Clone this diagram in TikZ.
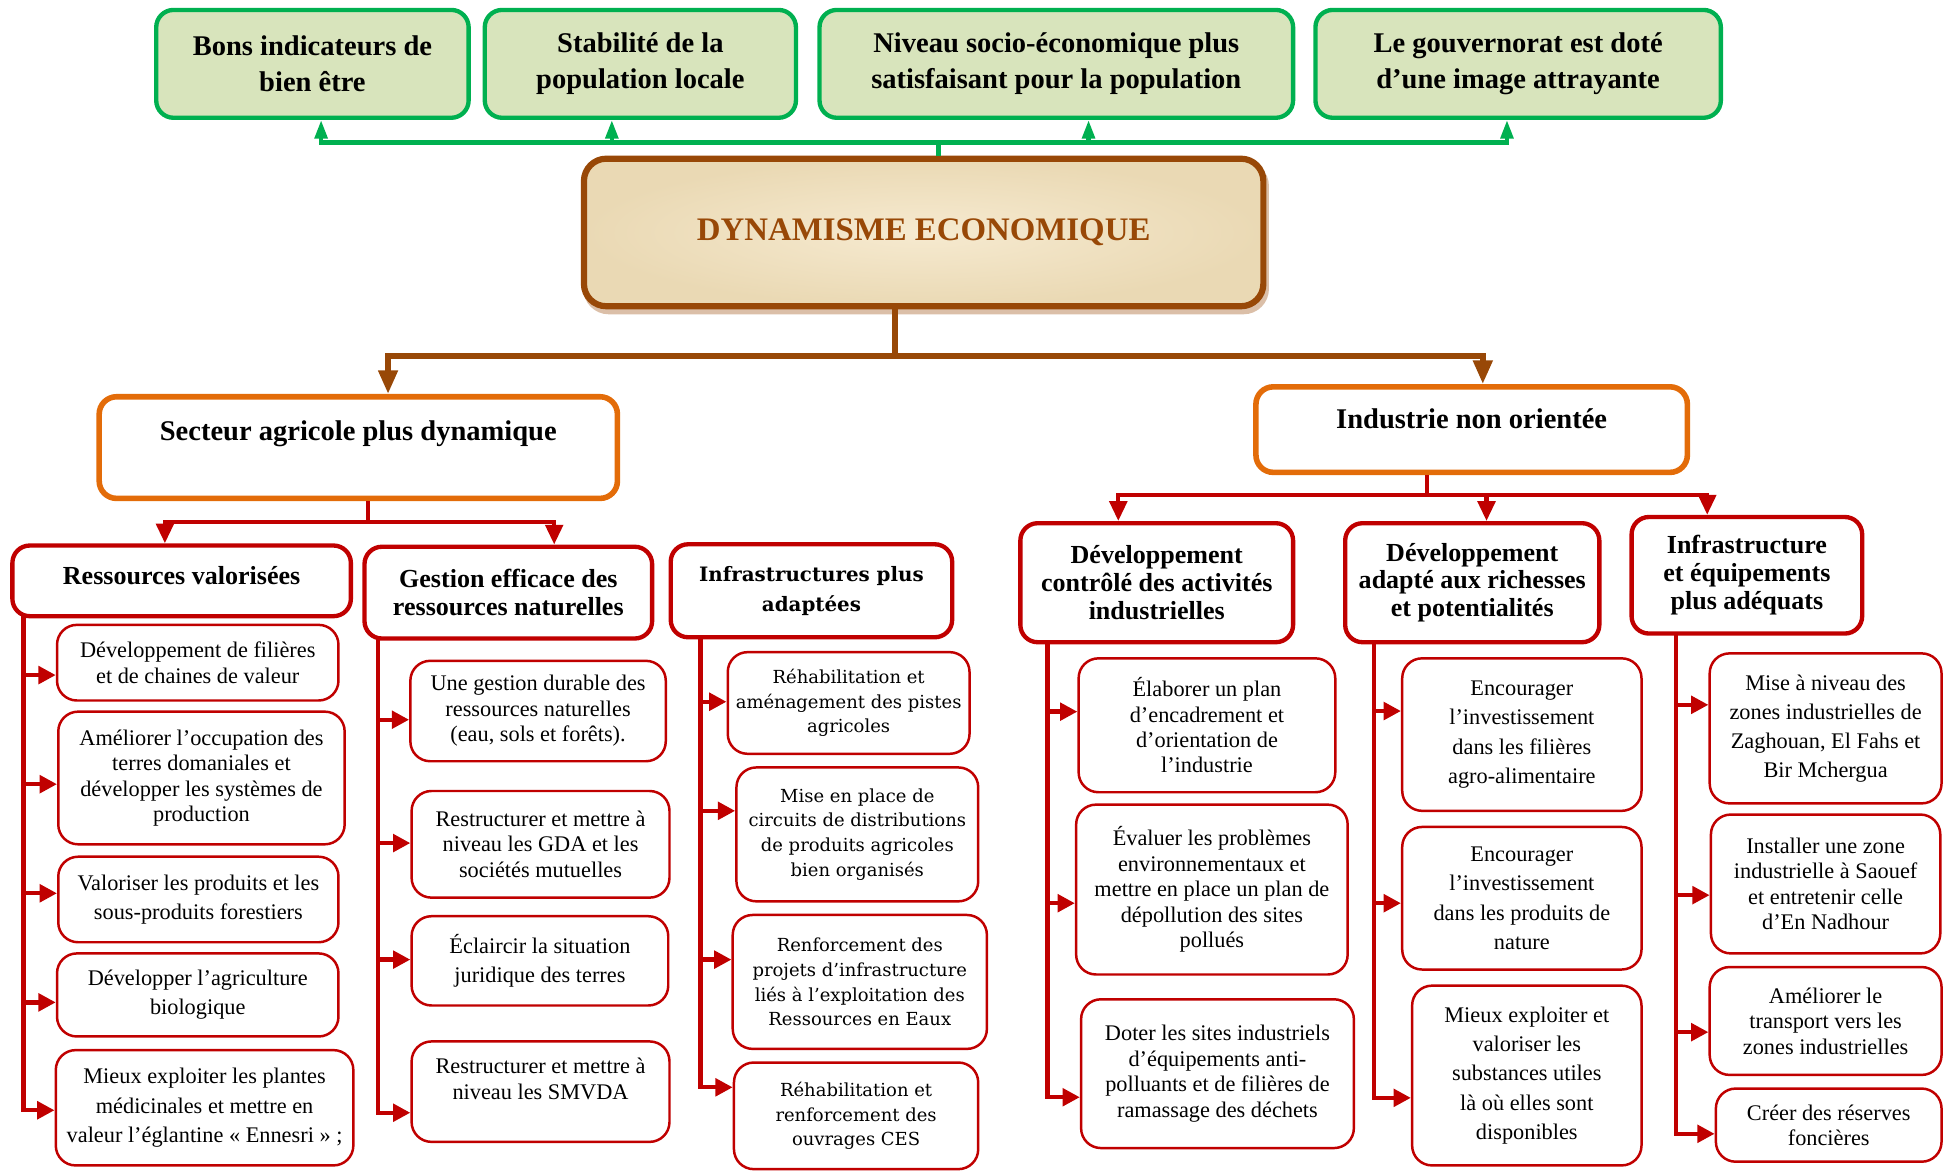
\documentclass[tikz,border=0pt]{standalone}
\usepackage{fontspec}
\setmainfont{Liberation Serif}
\newfontfamily\wideserif{DejaVu Serif}
\usetikzlibrary{arrows.meta, shadows}

\definecolor{goalFill}{HTML}{D8E4BC}
\definecolor{goalLine}{HTML}{00B050}
\definecolor{coreLine}{HTML}{984807}
\definecolor{coreLight}{HTML}{F6EAD0}
\definecolor{coreDark}{HTML}{EAD9B4}
\definecolor{sectorLine}{HTML}{E36C09}
\definecolor{axisLine}{HTML}{C00000}

\begin{document}
\begin{tikzpicture}[
        x=1pt, y=-1pt,
        dims/.style 2 args={minimum width=#1pt, minimum height=#2pt},
        goalNode/.style={
            rectangle, rounded corners=14pt, draw=goalLine, line width=3.5pt,
            fill=goalFill, inner sep=2pt, align=center,
            font=\fontsize{23}{29}\selectfont\bfseries
        },
        coreNode/.style={
            rectangle, rounded corners=18pt, draw=coreLine, line width=5pt,
            inner color=coreLight, outer color=coreDark, align=center,
            copy shadow={shadow xshift=2pt, shadow yshift=-4pt, fill=coreLine!35, draw=coreLine!35},
            text=coreLine, font=\fontsize{26.5}{30}\selectfont\bfseries
        },
        sectorNode/.style={
            rectangle, rounded corners=14pt, draw=sectorLine, line width=4.5pt,
            fill=white, inner sep=2pt, align=center,
            font=\fontsize{23}{28}\selectfont\bfseries
        },
        axisNode/.style={
            rectangle, rounded corners=14pt, draw=axisLine, line width=3.5pt,
            fill=white, inner sep=2pt, align=center,
            font=\fontsize{21}{22.5}\selectfont\bfseries
        },
        actionNode/.style={
            rectangle, rounded corners=16pt, draw=axisLine, line width=2pt,
            fill=white, inner sep=2pt, align=center,
            font=\fontsize{18}{20.5}\selectfont
        },
        loose/.style={font=\fontsize{18}{23.5}\selectfont},
        wide/.style={font=\wideserif\fontsize{14.5}{20}\selectfont},
        goalLink/.style={draw=goalLine, line width=3.5pt},
        goalArrow/.style={goalLink, -{Triangle[width=10pt,length=15pt]}},
        coreLink/.style={draw=coreLine, line width=4.5pt},
        coreArrow/.style={coreLink, -{Triangle[width=15pt,length=19pt]}},
        axisLink/.style={draw=axisLine, line width=3.5pt},
        axisArrow/.style={axisLink, -{Triangle[width=14pt,length=16pt]}},
        stemArrow/.style={axisLink, -{Triangle[width=14pt,length=14pt]}}
    ]
        \useasboundingbox (0,0) rectangle (1568,945);

        % Goals
        \node (o1) [goalNode, dims={252}{87}] at (252,51.5) {Bons indicateurs de\\bien être};
        \node (o2) [goalNode, dims={251}{87}] at (516.5,51.5) {Stabilité de la\\population locale};
        \node (o3) [goalNode, dims={382}{87}] at (852,51.5) {Niveau socio-économique plus\\satisfaisant pour la population};
        \node (o4) [goalNode, dims={327}{87}] at (1224.5,51.5) {Le gouvernorat est doté\\d’une image attrayante};

        % Central theme
        \node (core) [coreNode, dims={548}{119}] at (745,187.5) {DYNAMISME ECONOMIQUE};

        % Sectors
        \node (agri) [sectorNode, dims={418}{82}] at (289,361) {Secteur agricole plus dynamique\\\mbox{}};
        \node (indu) [sectorNode, dims={348}{69}] at (1187,346.5) {Industrie non orientée\\[-11pt]\mbox{}};

        % Axes
        \node (L1) [axisNode, dims={273}{57}] at (146.5,468.5) {Ressources valorisées\\[-14pt]\mbox{}};
        \node (L2) [axisNode, dims={232}{74}] at (410,478) {Gestion efficace des\\ressources naturelles};
        \node (L3) [axisNode, dims={227}{75}, font=\wideserif\fontsize{16}{24}\selectfont\bfseries] at (654.5,476.5) {Infrastructures plus\\adaptées};
        \node (R1) [axisNode, dims={220}{96}] at (933,470) {Développement\\contrôlé des activités\\industrielles};
        \node (R2) [axisNode, dims={205}{96}] at (1187.5,470) {Développement\\adapté aux richesses\\et potentialités};
        \node (R3) [axisNode, dims={186}{94}] at (1409,464) {Infrastructure\\et équipements\\plus adéquats};

        % Actions, agriculture
        \node (a1) [actionNode, dims={227}{61}] at (159.5,534.5) {Développement de filières\\et de chaines de valeur};
        \node (a2) [actionNode, dims={231}{107}] at (162.5,627.5) {Améliorer l’occupation des\\terres domaniales et\\développer les systèmes de\\production};
        \node (a3) [actionNode, loose, dims={226}{69}] at (160,725.5) {Valoriser les produits et les\\sous-produits forestiers};
        \node (a4) [actionNode, loose, dims={227}{67}] at (159.5,802.5) {Développer l’agriculture\\biologique};
        \node (a5) [actionNode, loose, dims={240}{93}] at (165,893.5) {Mieux exploiter les plantes\\médicinales et mettre en\\valeur l’églantine « Ennesri » ;};

        \node (b1) [actionNode, dims={206}{81}] at (434,573.5) {Une gestion durable des\\ressources naturelles\\(eau, sols et forêts).};
        \node (b2) [actionNode, dims={208}{86}] at (436,681) {Restructurer et mettre à\\niveau les GDA et les\\sociétés mutuelles};
        \node (b3) [actionNode, loose, dims={207}{72}] at (435.5,775) {Éclaircir la situation\\juridique des terres};
        \node (b4) [actionNode, dims={208}{81}] at (436,880.5) {Restructurer et mettre à\\niveau les SMVDA\\\mbox{}};

        \node (c1) [actionNode, wide, dims={195}{82}] at (684.5,567) {Réhabilitation et\\aménagement des pistes\\agricoles};
        \node (c2) [actionNode, wide, dims={195}{108}] at (691.5,673) {Mise en place de\\circuits de distributions\\de produits agricoles\\bien organisés};
        \node (c3) [actionNode, wide, dims={205}{108}] at (693.5,792) {Renforcement des\\projets d’infrastructure\\liés à l’exploitation des\\Ressources en Eaux};
        \node (c4) [actionNode, wide, dims={197}{86}] at (690.5,900) {Réhabilitation et\\renforcement des\\ouvrages CES};

        % Actions, industry
        \node (d1) [actionNode, dims={207}{108}] at (973.5,585) {Élaborer un plan\\d’encadrement et\\d’orientation de\\l’industrie};
        \node (d2) [actionNode, dims={219}{137}] at (977.5,717.5) {Évaluer les problèmes\\environnementaux et\\mettre en place un plan de\\dépollution des sites\\pollués};
        \node (d3) [actionNode, dims={220}{120}] at (982,866) {Doter les sites industriels\\d’équipements anti-\\polluants et de filières de\\ramassage des déchets};

        \node (e1) [actionNode, loose, dims={193}{123}] at (1227.5,592.5) {Encourager\\l’investissement\\dans les filières\\agro-alimentaire};
        \node (e2) [actionNode, loose, dims={193}{115}] at (1227.5,724.5) {Encourager\\l’investissement\\dans les produits de\\nature};
        \node (e3) [actionNode, loose, dims={185}{145}] at (1231.5,867.5) {Mieux exploiter et\\valoriser les\\substances utiles\\là où elles sont\\disponibles};

        \node (f1) [actionNode, loose, dims={187}{121}] at (1472.5,587.5) {Mise à niveau des\\zones industrielles de\\Zaghouan, El Fahs et\\Bir Mchergua};
        \node (f2) [actionNode, dims={185}{112}] at (1472.5,713) {Installer une zone\\industrielle à Saouef\\et entretenir celle\\d’En Nadhour};
        \node (f3) [actionNode, dims={187}{87}] at (1472.5,823.5) {Améliorer le\\transport vers les\\zones industrielles};
        \node (f4) [actionNode, dims={182}{59}] at (1475,907.5) {Créer des réserves\\foncières};

        % Links to the goals
        \coordinate (gbus) at (757,115);
        \draw [goalLink] ([xshift=12pt]core.north) -- (gbus);
        \draw [goalArrow] (gbus) -| ([xshift=7pt]o1.south);
        \draw [goalArrow] (gbus) -| ([xshift=-23pt]o2.south);
        \draw [goalArrow] (gbus) -| ([xshift=26pt]o3.south);
        \draw [goalArrow] (gbus) -| ([xshift=-9pt]o4.south);

        % Links to the sectors
        \coordinate (cbus) at (722,287);
        \draw [coreLink] ([xshift=-23pt]core.south) -- (cbus);
        \draw [coreArrow] (cbus) -| ([xshift=24pt]agri.north);
        \draw [coreArrow] (cbus) -| ([xshift=9pt]indu.north);

        % Links to the axes
        \coordinate (abus) at (297,421);
        \draw [axisLink] ([xshift=8pt]agri.south) -- (abus);
        \draw [axisArrow] (abus) -| ([xshift=-13.5pt]L1.north);
        \draw [axisArrow] (abus) -| ([xshift=37pt]L2.north);
        \coordinate (ibus) at (1151,399);
        \draw [axisLink] ([xshift=-36pt]indu.south) -- (ibus);
        \draw [axisArrow] (ibus) -| ([xshift=-31pt]R1.north);
        \draw [axisArrow] (ibus) -| ([xshift=11.5pt]R2.north);
        \draw [axisArrow] (ibus) -| ([xshift=-32pt]R3.north);

        % Stems to the actions
        \coordinate (s1) at (19,497);
        \coordinate (s2) at (305,515);
        \coordinate (s3) at (565,514);
        \coordinate (s4) at (845,518);
        \coordinate (s5) at (1108,518);
        \coordinate (s6) at (1352,511);
        \foreach \n/\d in {a1/-10pt,a2/-5pt,a3/5pt,a4/-6pt,a5/-2pt}
            \draw [stemArrow] (s1) |- ([yshift=\d]\n.west);
        \foreach \n/\d in {b1/-7pt,b2/1pt,b3/1pt,b4/-17pt}
            \draw [stemArrow] (s2) |- ([yshift=\d]\n.west);
        \foreach \n/\d in {c1/1pt,c2/19pt,c3/18pt,c4/23pt}
            \draw [stemArrow] (s3) |- ([yshift=\d]\n.west);
        \foreach \n/\d in {d1/11pt,d2/-11pt,d3/-19pt}
            \draw [stemArrow] (s4) |- ([yshift=\d]\n.west);
        \foreach \n/\d in {e1/19pt,e2/-4pt,e3/-18pt}
            \draw [stemArrow] (s5) |- ([yshift=\d]\n.west);
        \foreach \n/\d in {f1/19pt,f2/-9pt,f3/-9pt,f4/-7pt}
            \draw [stemArrow] (s6) |- ([yshift=\d]\n.west);
\end{tikzpicture}
\end{document}
